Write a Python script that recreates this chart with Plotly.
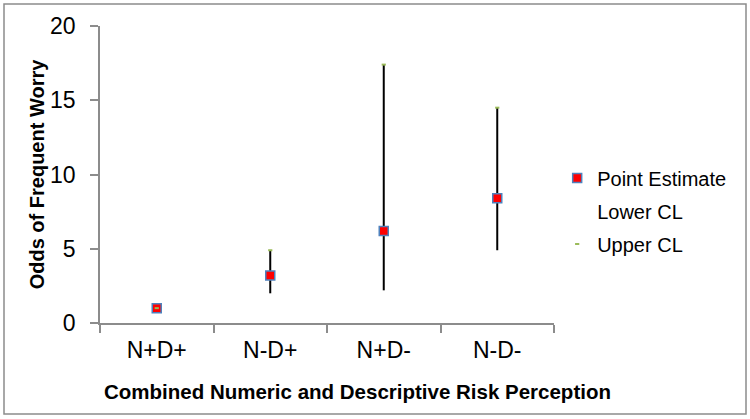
import plotly.graph_objects as go

categories = ["N+D+", "N-D+", "N+D-", "N-D-"]
point_estimate = [1.0, 3.2, 6.2, 8.4]
lower_cl = [1.0, 2.0, 2.2, 4.9]
upper_cl = [1.0, 4.9, 17.4, 14.5]
y_ticks = [0, 5, 10, 15, 20]

regular = "Liberation Sans, Arial, sans-serif"

fig = go.Figure()

# high-low lines
lx, ly = [], []
for c, lo, hi in zip(categories, lower_cl, upper_cl):
    lx += [c, c, None]
    ly += [lo, hi, None]
fig.add_trace(go.Scatter(x=lx, y=ly, mode="lines", line=dict(color="black", width=2),
                         showlegend=False, hoverinfo="skip"))

fig.add_trace(go.Scatter(x=categories, y=point_estimate, mode="markers", name="Point Estimate",
                         legendgroup="a",
                         marker=dict(symbol="square", size=9, color="#ff0000",
                                     line=dict(color="#4f81bd", width=1.5))))
fig.add_trace(go.Scatter(x=categories, y=lower_cl, mode="markers", name="Lower CL",
                         legendgroup="b",
                         marker=dict(symbol="line-ew", size=4, color="rgba(0,0,0,0)",
                                     line=dict(color="rgba(0,0,0,0)", width=0))))
fig.add_trace(go.Scatter(x=categories, y=upper_cl, mode="markers", name="Upper CL",
                         legendgroup="c",
                         marker=dict(symbol="line-ew", size=3, color="#9bbb59",
                                     line=dict(color="#9bbb59", width=2))))

fig.update_layout(
    width=750, height=419,
    margin=dict(l=100, r=196, t=26, b=96),
    paper_bgcolor="white", plot_bgcolor="white",
    font=dict(family=regular, color="black"),
    legend=dict(x=1.007, y=(323 - 211) / 297, xanchor="left", yanchor="middle",
                font=dict(size=20, family=regular), itemwidth=30,
                tracegroupgap=4, bgcolor="rgba(0,0,0,0)"),
    shapes=[dict(type="rect", xref="paper", yref="paper",
                 x0=-96 / 454, x1=646 / 454, y0=-91 / 297, y1=(297 + 22) / 297,
                 line=dict(color="#8c8c8c", width=1.5), fillcolor="rgba(0,0,0,0)", layer="below")],
    annotations=[dict(text="<b>Combined Numeric and Descriptive Risk Perception</b>",
                      xref="paper", yref="paper", x=(357 - 100) / 454, y=-(391 - 323) / 297,
                      xanchor="center", yanchor="middle", showarrow=False,
                      font=dict(family=regular, size=20.5))],
)

fig.update_xaxes(
    type="category", categoryorder="array", categoryarray=categories, range=[-0.5, 3.5],
    showline=True, linecolor="#8c8c8c", linewidth=1.5,
    ticks="outside", tickson="boundaries", ticklen=8, tickcolor="#8c8c8c", tickwidth=1.5,
    tickfont=dict(family=regular, size=23), ticklabelstandoff=6,
    showgrid=False, zeroline=False,
)
fig.update_yaxes(
    range=[0, 20], tickvals=y_ticks,
    showline=True, linecolor="#8c8c8c", linewidth=1.5,
    ticks="outside", ticklen=8, tickcolor="#8c8c8c", tickwidth=1.5,
    tickfont=dict(family=regular, size=23), ticklabelstandoff=10,
    showgrid=False, zeroline=False,
    title=dict(text="<b>Odds of Frequent Worry</b>", font=dict(family=regular, size=20), standoff=0),
)

fig.write_html("out.html", post_script="document.body.style.margin='0';",
               config={"displayModeBar": False})
